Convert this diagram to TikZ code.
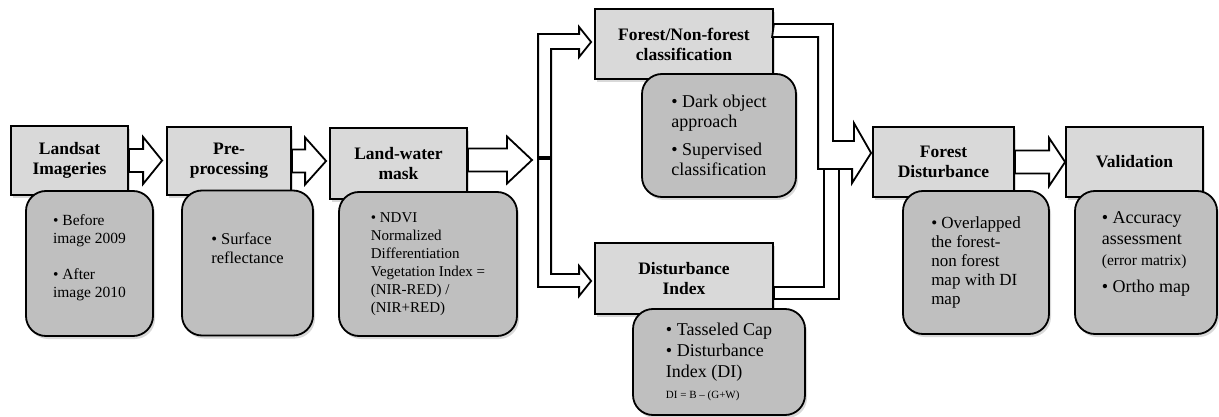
\documentclass[tikz,border=0pt]{standalone}
\usepackage{fontspec}
\setmainfont{Liberation Serif}
\usetikzlibrary{calc,shadows}

\tikzset{
  stagebox/.style={draw, rectangle, line width=1.8pt, fill=black!15, align=center, inner sep=2pt,
    font=\bfseries\fontsize{17.5}{20}\selectfont,
    drop shadow={shadow xshift=2pt, shadow yshift=-3pt, opacity=0.3}},
  notebox/.style={draw, rectangle, rounded corners=20pt, line width=1.8pt, fill=black!25, align=left, inner sep=2pt,
    drop shadow={shadow xshift=2pt, shadow yshift=-3pt, opacity=0.3}},
  arrowline/.style={draw, fill=white, line width=1.8pt}
}

\newcommand{\blockarrow}[5]{%
  \draw[arrowline] let \p1=(#1), \p2=(#2) in
    (\x1,{\y1+#3pt}) -- ({\x2-#5pt},{\y1+#3pt}) -- ({\x2-#5pt},{\y1+#4pt})
    -- (\x2,\y1) -- ({\x2-#5pt},{\y1-#4pt}) -- ({\x2-#5pt},{\y1-#3pt})
    -- (\x1,{\y1-#3pt}) -- cycle;}

\begin{document}
\begin{tikzpicture}[x=1pt, y=-1pt]
\useasboundingbox (0,0) rectangle (1219,417);
\node (landsat) [stagebox, minimum width=117pt, minimum height=69pt] at (69.5,160.5) {Landsat\\Imageries};
\node (preproc) [stagebox, minimum width=124pt, minimum height=68pt] at (229,161) {Pre-\\processing};
\node (landwater) [stagebox, minimum width=137pt, minimum height=71pt] at (398.5,163.5) {Land-water\\mask};
\node (forestclass) [stagebox, minimum width=178pt, minimum height=70pt] at (684,44) {Forest/Non-forest\\classification};
\node (distindex) [stagebox, minimum width=178pt, minimum height=71pt] at (684,278.5) {Disturbance\\Index};
\node (forestdist) [stagebox, minimum width=141pt, minimum height=70pt] at (943.5,162) {Forest\\Disturbance};
\node (validation) [stagebox, minimum width=137pt, minimum height=70pt] at (1134.5,162) {Validation};
\coordinate (fork) at (539,158);

\blockarrow{landsat.east}{$(preproc.west)+(-4,0)$}{11.5}{23.5}{19}
\blockarrow{preproc.east}{$(landwater.west)+(-3,0)$}{11.5}{23.5}{21}
\blockarrow{$(landwater.east)+(0,-3.5)$}{$(fork)+(-7,0)$}{11.5}{23.5}{25}
\blockarrow{forestdist.east}{validation.west}{11.5}{24}{16}

\draw[arrowline] ($(forestclass.west)+(-3,-2)$) -- ++(-12,-15) -- ++(0,7) -- ++(-41,0) -- ++(0,253) -- ++(41,0) -- ++(0,9)
  -- ($(distindex.west)+(-3,2.5)$) -- ++(-12,-15) -- ++(0,8) -- ++(-28,0) -- ++(0,-225) -- ++(28,0) -- ++(0,8) -- cycle;
\draw[line width=3.5pt] (fork) -- ++(13,0);

\draw[arrowline] ($(distindex.east)+(0,8.5)$) -- ++(50,0) -- ++(0,-118) -- ++(15,0) -- ++(0,130) -- ++(-65,0) -- cycle;
\draw[arrowline] ($(forestclass.east)+(0,-20)$) -- ++(59,0) -- ++(0,117) -- ++(21,0) -- ++(0,-18)
  -- ($(forestdist.west)+(-1,-9)$) -- ++(-19,30) -- ++(0,-14) -- ++(-34,0) -- ++(0,-132) -- ++(-46,0) -- cycle;

\node (landsatnote) [notebox, minimum width=127pt, minimum height=145pt, font=\fontsize{15.5}{18}\selectfont] at (89.5,263.5)
  {• Before\\image 2009\\[18pt]• After\\image 2010\\[-4pt]\mbox{}};
\node (preprocnote) [notebox, minimum width=131pt, minimum height=145pt, font=\fontsize{16.5}{19}\selectfont] at (247.5,263)
  {• Surface\\reflectance\\[10pt]\mbox{}};
\node (landwaternote) [notebox, minimum width=178pt, minimum height=144pt, font=\fontsize{15}{18}\selectfont] at (428,264)
  {• NDVI\\Normalized\\Differentiation\\Vegetation Index =\\(NIR-RED) /\\(NIR+RED)};
\node (forestclassnote) [notebox, minimum width=154pt, minimum height=123pt, font=\fontsize{18}{20}\selectfont] at (719,135.5)
  {• Dark object\\approach\\[8pt]• Supervised\\classification};
\node (distindexnote) [notebox, minimum width=172pt, minimum height=106pt, font=\fontsize{18}{21}\selectfont] at (719,362)
  {• Tasseled Cap\\• Disturbance\\Index (DI)\\{\fontsize{11}{13}\selectfont DI = B – (G+W)}};
\node (forestdistnote) [notebox, minimum width=146pt, minimum height=143pt, font=\fontsize{17}{19}\selectfont] at (976,262.5)
  {• Overlapped\\the forest-\\non forest\\map with DI\\map};
\node (validationnote) [notebox, minimum width=142pt, minimum height=143pt, font=\fontsize{18}{21}\selectfont] at (1146,262.5)
  {• Accuracy\\assessment\\{\fontsize{15.5}{18}\selectfont (error matrix)}\\[6pt]• Ortho map\\[0pt]\mbox{}};
\end{tikzpicture}
\end{document}
